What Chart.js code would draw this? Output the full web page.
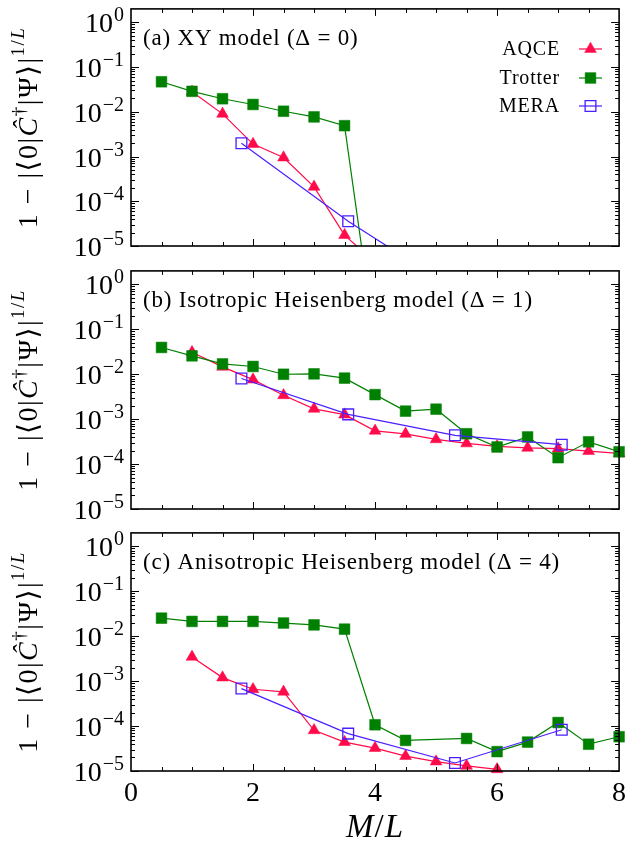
<!DOCTYPE html>
<html><head><meta charset="utf-8">
<script src="https://cdn.jsdelivr.net/npm/chart.js@4.4.1/dist/chart.umd.min.js"></script>
<style>
html,body{margin:0;padding:0;background:#fff;}
#wrap{position:relative;width:628px;height:846px;background:#fff;}
canvas{position:absolute;left:0;}
</style></head><body>
<div id="wrap">
<canvas id="ca" width="628" height="262" style="top:0px"></canvas>
<canvas id="cb" width="628" height="262" style="top:262px"></canvas>
<canvas id="cc" width="628" height="322" style="top:524px"></canvas>
</div>
<script>
// ---------- data ----------
const panelTitles = ['(a) XY model (\u0394 = 0)', '(b) Isotropic Heisenberg model (\u0394 = 1)', '(c) Anisotropic Heisenberg model (\u0394 = 4)'];
const seriesNames = ['AQCE', 'Trotter', 'MERA'];
const yTickExponents = [0, -1, -2, -3, -4, -5];
const xTickLabels = [0, 2, 4, 6, 8];

// panel (a) XY model
const aqceX_a = [1, 1.5, 2, 2.5, 3, 3.5, 4];
const aqceY_a = [0.028, 0.0090, 0.0019, 0.00095, 0.00021, 1.75e-5, 4.3e-6];
const trotterX_a = [0.5, 1, 1.5, 2, 2.5, 3, 3.5, 4];
const trotterY_a = [0.047, 0.0287, 0.0196, 0.0146, 0.0103, 0.0077, 0.0049, 7e-8];
const meraX_a = [1.81, 3.56, 5.31];
const meraY_a = [0.00198, 3.57e-5, 1.07e-6];

// panel (b) isotropic Heisenberg
const aqceX_b = [1, 1.5, 2, 2.5, 3, 3.5, 4, 4.5, 5, 5.5, 6, 6.5, 7, 7.5, 8];
const aqceY_b = [0.031, 0.0146, 0.0076, 0.0034, 0.0017, 0.00126, 0.00055, 0.00047, 0.000355, 0.000288, 0.000249, 0.000229, 0.000221, 0.000195, 0.000173];
const trotterX_b = [0.5, 1, 1.5, 2, 2.5, 3, 3.5, 4, 4.5, 5, 5.5, 6, 6.5, 7, 7.5, 8];
const trotterY_b = [0.0395, 0.0257, 0.017, 0.0149, 0.0100, 0.0102, 0.0082, 0.00352, 0.00151, 0.00167, 0.000474, 0.00024, 0.000402, 0.000139, 0.000313, 0.000188];
const meraX_b = [1.81, 3.56, 5.31, 7.06];
const meraY_b = [0.00806, 0.00128, 0.000437, 0.00027];

// panel (c) anisotropic Heisenberg
const aqceX_c = [1, 1.5, 2, 2.5, 3, 3.5, 4, 4.5, 5, 5.5, 6];
const aqceY_c = [0.00347, 0.0012, 0.00066, 0.00058, 8.05e-5, 4.4e-5, 3.24e-5, 2.14e-5, 1.62e-5, 1.3e-5, 1.09e-5];
const trotterX_c = [0.5, 1, 1.5, 2, 2.5, 3, 3.5, 4, 4.5, 5.5, 6, 6.5, 7, 7.5, 8];
const trotterY_c = [0.0253, 0.0214, 0.0214, 0.0214, 0.0197, 0.0179, 0.0144, 0.000107, 4.8e-5, 5.3e-5, 2.7e-5, 4.4e-5, 0.00012, 3.95e-5, 5.8e-5];
const meraX_c = [1.81, 3.56, 5.31, 7.06];
const meraY_c = [0.000684, 6.8e-5, 1.51e-5, 8.3e-5];

// ---------- style ----------
const SERIF = '"Liberation Serif","DejaVu Serif","DejaVu Sans",serif';
const COLORS = {AQCE: '#ff0a4a', Trotter: '#008000', MERA: '#4a1eff'};
const X_MIN = 0, X_MAX = 8, Y_MIN = 1e-5, Y_MAX = 2;
const MARK = {
  AQCE: {style: 'triangle', r: 6.8, fill: COLORS.AQCE, bw: 0.5},
  Trotter: {style: 'rect', r: 7.6, fill: COLORS.Trotter, bw: 0.5},
  MERA: {style: 'rect', r: 7.6, fill: 'rgba(0,0,0,0)', bw: 1.3}
};

function drawRich(ctx, pieces, cx, baseY) {
  let total = 0;
  for (const p of pieces) { ctx.font = p.font; p.w = ctx.measureText(p.t).width; total += p.w + (p.gap || 0); }
  let x = cx - total / 2;
  ctx.textAlign = 'left'; ctx.textBaseline = 'alphabetic';
  for (const p of pieces) { ctx.font = p.font; ctx.fillText(p.t, x, baseY + (p.dy || 0)); x += p.w + (p.gap || 0); }
}

const decor = {
  id: 'decor',
  afterDatasetsDraw(chart, args, opts) {
    const {ctx, chartArea: a} = chart;
    const x = chart.scales.x, y = chart.scales.y;
    const idx = opts.idx;
    ctx.save();
    // inside ticks
    ctx.strokeStyle = '#000'; ctx.lineWidth = 1;
    ctx.beginPath();
    for (let e = -5; e <= 0; e++) {
      for (let m = 1; m <= 9; m++) {
        const v = m * Math.pow(10, e);
        if (v >= Y_MAX || v < Y_MIN) continue;
        const py = Math.round(y.getPixelForValue(v)) + 0.5;
        const len = m === 1 ? 8 : 4;
        ctx.moveTo(a.left, py); ctx.lineTo(a.left + len, py);
        ctx.moveTo(a.right, py); ctx.lineTo(a.right - len, py);
      }
    }
    for (let k = 1; k < 16; k++) {
      const v = k * 0.5;
      const px = Math.round(x.getPixelForValue(v)) + 0.5;
      const len = (v % 2 === 0) ? 7 : 4;
      ctx.moveTo(px, a.top); ctx.lineTo(px, a.top + len);
      ctx.moveTo(px, a.bottom); ctx.lineTo(px, a.bottom - len);
    }
    ctx.stroke();
    ctx.lineWidth = 1.6;
    ctx.strokeRect(a.left, a.top, a.right - a.left, a.bottom - a.top);

    ctx.fillStyle = '#000';
    // y tick labels 10^e
    for (const e of yTickExponents) {
      const py = y.getPixelForValue(Math.pow(10, e));
      const expStr = e === 0 ? '0' : '\u2212' + Math.abs(e);
      ctx.textAlign = 'left'; ctx.textBaseline = 'alphabetic';
      ctx.font = '20px ' + SERIF;
      const we = ctx.measureText(expStr).width;
      const right = 124;
      ctx.fillText(expStr, right - we, py - 1);
      ctx.font = '28px ' + SERIF;
      const wb = ctx.measureText('10').width;
      ctx.fillText('10', right - we - wb - 1, py + 10);
    }
    // panel title
    ctx.save();
    ctx.letterSpacing = '0.8px';
    ctx.font = '23px ' + SERIF; ctx.textAlign = 'left'; ctx.textBaseline = 'middle';
    ctx.fillText(panelTitles[idx], a.left + 12, a.top + 30);
    ctx.restore();

    // y-axis title (rotated)
    ctx.save();
    ctx.translate(27, (a.top + a.bottom) / 2);
    ctx.rotate(-Math.PI / 2);
    ctx.letterSpacing = '1.5px';
    const F = '28px ' + SERIF, FI = 'italic 28px ' + SERIF, FS = '19px ' + SERIF, FSI = 'italic 19px ' + SERIF;
    drawRich(ctx, [
      {t: '1 \u2212 |\u27E80|', font: F},
      {t: 'C\u0302', font: FI},
      {t: '\u2020', font: FS, dy: -12},
      {t: '|\u03A8\u27E9|', font: F},
      {t: '1/', font: FS, dy: -13},
      {t: 'L', font: FSI, dy: -13}
    ], 0, 10);
    ctx.restore();

    // legend (panel a)
    if (idx === 0) {
      const rowsY = [49, 78, 106];
      seriesNames.forEach((name, i) => {
        const ry = rowsY[i];
        ctx.save();
        ctx.letterSpacing = '0.8px';
        ctx.font = '20px ' + SERIF; ctx.textAlign = 'right'; ctx.textBaseline = 'middle'; ctx.fillStyle = '#000';
        ctx.fillText(name, 560, ry + 1);
        ctx.restore();
        ctx.strokeStyle = COLORS[name]; ctx.lineWidth = 1.2;
        ctx.beginPath(); ctx.moveTo(579, ry); ctx.lineTo(602, ry); ctx.stroke();
        const mk = MARK[name];
        ctx.fillStyle = mk.fill; ctx.strokeStyle = COLORS[name]; ctx.lineWidth = mk.bw;
        Chart.helpers.drawPoint(ctx, {pointStyle: mk.style, radius: mk.r, rotation: 0, borderWidth: mk.bw}, 590.5, ry);
      });
    }
    // x axis labels and title (panel c)
    if (idx === 2) {
      ctx.fillStyle = '#000';
      ctx.font = '28px ' + SERIF; ctx.textAlign = 'center'; ctx.textBaseline = 'alphabetic';
      for (const v of xTickLabels) ctx.fillText(String(v), x.getPixelForValue(v), a.bottom + 30);
      ctx.save();
      ctx.letterSpacing = '1px';
      drawRich(ctx, [
        {t: 'M', font: 'italic 33px ' + SERIF},
        {t: '/', font: '33px ' + SERIF},
        {t: 'L', font: 'italic 33px ' + SERIF}
      ], (a.left + a.right) / 2, a.bottom + 66);
      ctx.restore();
    }
    ctx.restore();
  }
};

function makeDatasets(sets) {
  const out = [];
  // gnuplot order AQCE, Trotter, MERA (MERA on top); Chart.js draws first dataset on top
  for (const name of ['MERA', 'Trotter', 'AQCE']) {
    const s = sets[name];
    const pts = s.x.map((xv, i) => ({x: xv, y: s.y[i]}));
    const mk = MARK[name];
    out.push({
      label: name + ' markers', data: pts, showLine: false, clip: false,
      pointStyle: mk.style, backgroundColor: mk.fill, borderColor: COLORS[name],
      pointBackgroundColor: mk.fill, pointBorderColor: COLORS[name], pointBorderWidth: mk.bw,
      pointRadius: (c) => (c.parsed && c.parsed.y >= Y_MIN * 0.98 && c.parsed.y <= Y_MAX) ? mk.r : 0,
      pointHoverRadius: 0
    });
    out.push({
      label: name, data: pts, showLine: true, clip: 0,
      borderColor: COLORS[name], borderWidth: 1.2, pointRadius: 0, pointHoverRadius: 0,
      fill: false, tension: 0
    });
  }
  return out;
}

function makeChart(id, idx, sets, padBottom) {
  return new Chart(document.getElementById(id), {
    type: 'scatter',
    data: {datasets: makeDatasets(sets)},
    options: {
      responsive: false, animation: false, events: [],
      layout: {padding: {left: 131, right: 7, top: 2, bottom: padBottom}},
      scales: {
        x: {type: 'linear', min: X_MIN, max: X_MAX, display: false},
        y: {type: 'logarithmic', min: Y_MIN, max: Y_MAX, display: false}
      },
      plugins: {legend: {display: false}, tooltip: {enabled: false}, decor: {idx: idx}}
    },
    plugins: [decor]
  });
}

makeChart('ca', 0, {
  AQCE: {x: aqceX_a, y: aqceY_a}, Trotter: {x: trotterX_a, y: trotterY_a}, MERA: {x: meraX_a, y: meraY_a}
}, 16);
makeChart('cb', 1, {
  AQCE: {x: aqceX_b, y: aqceY_b}, Trotter: {x: trotterX_b, y: trotterY_b}, MERA: {x: meraX_b, y: meraY_b}
}, 15);
makeChart('cc', 2, {
  AQCE: {x: aqceX_c, y: aqceY_c}, Trotter: {x: trotterX_c, y: trotterY_c}, MERA: {x: meraX_c, y: meraY_c}
}, 75);
</script>
</body></html>
